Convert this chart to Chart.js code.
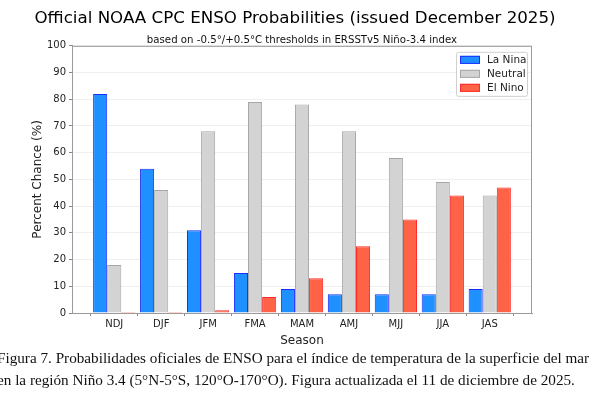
<!DOCTYPE html>
<html>
<head>
<meta charset="utf-8">
<script src="https://cdn.jsdelivr.net/npm/chart.js@4"></script>
<style>
  html, body { margin: 0; padding: 0; background: #fff; }
  #wrap { position: relative; width: 600px; height: 396px; overflow: hidden; }
  #c { position: absolute; left: 0; top: 0; }
  .cap { position: absolute; left: -3px; white-space: nowrap; font-family: "Liberation Serif", serif; font-size: 15.2px; color: #111; }
</style>
</head>
<body>
<div id="wrap">
  <canvas id="c" width="600" height="350"></canvas>
  <div class="cap" style="top:349px">Figura 7. Probabilidades oficiales de ENSO para el índice de temperatura de la superficie del mar</div>
  <div class="cap" style="top:371px">en la región Niño 3.4 (5°N-5°S, 120°O-170°O). Figura actualizada el 11 de diciembre de 2025.</div>
</div>
<script>
// ค่าความน่าจะเป็นแต่ละฤดู (%)
const seasons = ['NDJ', 'DJF', 'JFM', 'FMA', 'MAM', 'AMJ', 'MJJ', 'JJA', 'JAS'];
const laNina = [82, 54, 31, 15, 9, 7, 7, 7, 9];
const neutral = [18, 46, 68, 79, 78, 68, 58, 49, 44];
const elNino = [0, 0, 1, 6, 13, 25, 35, 44, 47];
const yTicks = [0, 10, 20, 30, 40, 50, 60, 70, 80, 90, 100];

const font = 'DejaVu Sans';
const toXY = (arr) => arr.map((v, i) => ({ x: i, y: v }));

// กรอบรอบพื้นที่กราฟ
const frame = {
  id: 'frame',
  afterDatasetsDraw(chart) {
    const { ctx, chartArea: a } = chart;
    ctx.save();
    ctx.strokeStyle = '#9a9a9a';
    ctx.lineWidth = 1;
    ctx.strokeRect(a.left + 0.5, a.top + 0.5, a.right - a.left - 1, a.bottom - a.top);
    ctx.restore();
  }
};

// legend ด้านในมุมขวาบน
const innerLegend = {
  id: 'innerLegend',
  afterDraw(chart) {
    const { ctx, chartArea: a } = chart;
    const w = 71, h = 44;
    const x = a.right - 5 - w, y = a.top + 6;
    ctx.save();
    ctx.fillStyle = 'rgba(255,255,255,0.85)';
    ctx.strokeStyle = '#d0d0d0';
    ctx.lineWidth = 1;
    ctx.beginPath();
    ctx.roundRect(x + 0.5, y + 0.5, w, h, 2);
    ctx.fill();
    ctx.stroke();
    ctx.font = '10.5px "' + font + '"';
    ctx.textBaseline = 'middle';
    chart.data.datasets.forEach((ds, i) => {
      const cy = y + 8 + i * 14;
      ctx.fillStyle = ds.backgroundColor;
      ctx.fillRect(x + 4, cy - 4, 20, 8);
      ctx.strokeStyle = ds.borderColor;
      ctx.strokeRect(x + 4.5, cy - 3.5, 19, 7);
      ctx.fillStyle = '#222';
      ctx.fillText(ds.label, x + 31, cy + 0.5);
    });
    ctx.restore();
  }
};

new Chart(document.getElementById('c'), {
  type: 'bar',
  data: {
    datasets: [
      { label: 'La Nina', data: toXY(laNina), backgroundColor: '#1E90FF', borderColor: '#1a2cff', borderWidth: 1 },
      { label: 'Neutral', data: toXY(neutral), backgroundColor: '#D3D3D3', borderColor: '#a6a6a6', borderWidth: 1 },
      { label: 'El Nino', data: toXY(elNino), backgroundColor: '#FF6347', borderColor: '#ff2a2a', borderWidth: 1, minBarLength: 1 },
    ],
  },
  options: {
    responsive: false,
    animation: false,
    categoryPercentage: 0.9,
    barPercentage: 1,
    layout: { padding: { left: 31, right: 41, top: 8, bottom: 2 } },
    plugins: {
      legend: { display: false },
      tooltip: { enabled: false },
      title: {
        display: true,
        text: 'Official NOAA CPC ENSO Probabilities (issued December 2025)',
        color: '#000',
        font: { family: font, size: 16.7, weight: 'normal' },
        padding: { top: 0.2, bottom: 5.6 },
      },
    },
    scales: {
      x: {
        type: 'linear',
        min: -0.9,
        max: 8.9,
        offset: false,
        afterBuildTicks: (scale) => { scale.ticks = seasons.map((s, i) => ({ value: i })); },
        afterFit: (scale) => { scale.height = 35; },
        ticks: {
          callback: (v) => seasons[v],
          color: '#222',
          font: { family: font, size: 10 },
          padding: 2,
          maxRotation: 0,
        },
        grid: { drawOnChartArea: false, drawTicks: true, tickLength: 3, tickColor: '#888' },
        border: { color: '#9a9a9a' },
        title: {
          display: true,
          text: 'Season',
          color: '#222',
          font: { family: font, size: 12 },
          padding: { top: 0, bottom: 0 },
        },
      },
      // แกนบนใช้แสดงคำอธิบายใต้หัวเรื่อง (กึ่งกลางพื้นที่กราฟ)
      xTop: {
        type: 'linear',
        position: 'top',
        min: 0,
        max: 1,
        afterFit: (scale) => { scale.height = 12; },
        ticks: { display: false },
        grid: { display: false, drawTicks: false },
        border: { display: false },
        title: {
          display: true,
          text: 'based on -0.5°/+0.5°C thresholds in ERSSTv5 Niño-3.4 index',
          color: '#111',
          font: { family: font, size: 10.2 },
          padding: { top: 0, bottom: 0 },
        },
      },
      y: {
        min: 0,
        max: 100,
        afterBuildTicks: (scale) => { scale.ticks = yTicks.map((v) => ({ value: v })); },
        afterFit: (scale) => { scale.width = 41; },
        ticks: {
          color: '#222',
          font: { family: font, size: 10 },
          padding: 3,
        },
        grid: { color: '#efefef', tickColor: '#888', tickLength: 3 },
        border: { color: '#9a9a9a' },
        title: {
          display: true,
          text: 'Percent Chance (%)',
          color: '#222',
          font: { family: font, size: 12 },
          padding: { top: 0, bottom: 0 },
        },
      },
      // แกนขวาว่างไว้เพื่อเว้นระยะให้พื้นที่กราฟ
      yRight: {
        position: 'right',
        min: 0,
        max: 1,
        afterFit: (scale) => { scale.width = 27; },
        ticks: { display: false },
        grid: { display: false, drawTicks: false },
        border: { display: false },
      },
    },
  },
  plugins: [frame, innerLegend],
});
</script>
</body>
</html>
